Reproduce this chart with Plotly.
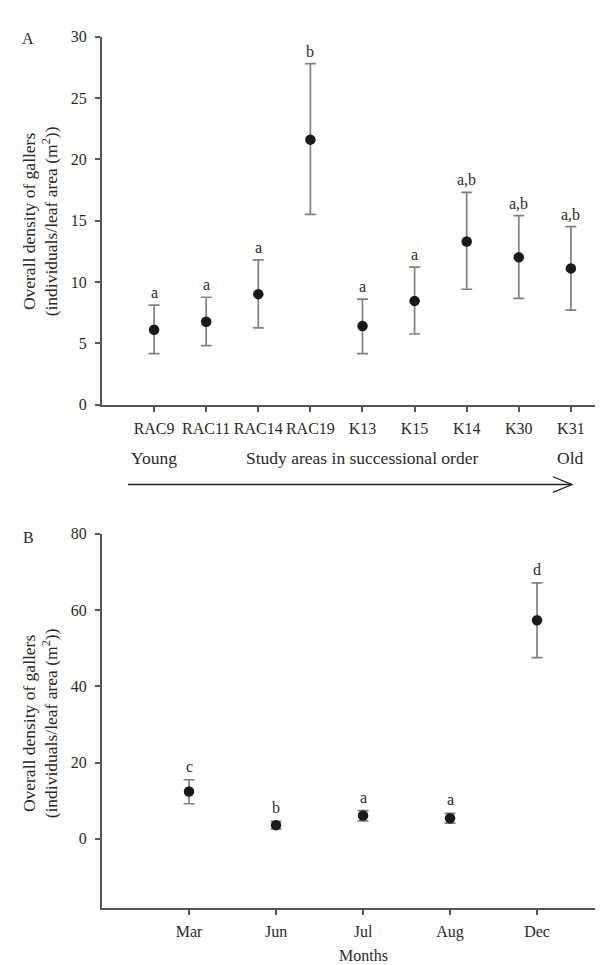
import plotly.graph_objects as go

# Panel A data
sites = ["RAC9", "RAC11", "RAC14", "RAC19", "K13", "K15", "K14", "K30", "K31"]
site_mean = [6.1, 6.75, 9.0, 21.6, 6.4, 8.45, 13.3, 12.0, 11.1]
site_upper = [8.1, 8.75, 11.8, 27.8, 8.6, 11.2, 17.3, 15.4, 14.5]
site_lower = [4.15, 4.8, 6.25, 15.5, 4.15, 5.75, 9.4, 8.65, 7.7]
site_letters = ["a", "a", "a", "b", "a", "a", "a,b", "a,b", "a,b"]

# Panel B data
months = ["Mar", "Jun", "Jul", "Aug", "Dec"]
month_mean = [12.4, 3.6, 6.1, 5.4, 57.3]
month_upper = [15.5, 4.6, 7.4, 6.7, 67.1]
month_lower = [9.2, 2.6, 4.7, 4.1, 47.5]
month_letters = ["c", "b", "a", "a", "d"]

W, H = 603, 965
FONT = "Liberation Serif"
TXT = "#2a2a2a"
AX = "#555555"
ERR = "#808080"
MK = "#1a1a1a"
FS = 16
FT = 17.5


def px(x):
    return x / W


def py(y):
    return 1 - y / H


fig = go.Figure()

fig.add_trace(go.Scatter(
    x=sites, y=site_mean, mode="markers",
    marker=dict(size=10.5, color=MK),
    error_y=dict(type="data", symmetric=False,
                 array=[u - m for u, m in zip(site_upper, site_mean)],
                 arrayminus=[m - l for m, l in zip(site_mean, site_lower)],
                 color=ERR, thickness=1.7, width=5.5),
    xaxis="x", yaxis="y", showlegend=False))

fig.add_trace(go.Scatter(
    x=months, y=month_mean, mode="markers",
    marker=dict(size=10.5, color=MK),
    error_y=dict(type="data", symmetric=False,
                 array=[u - m for u, m in zip(month_upper, month_mean)],
                 arrayminus=[m - l for m, l in zip(month_mean, month_lower)],
                 color=ERR, thickness=1.7, width=5.5),
    xaxis="x2", yaxis="y2", showlegend=False))

axis_common = dict(showline=True, linecolor=AX, linewidth=2, showgrid=False,
                   zeroline=False, ticks="outside", ticklen=5, tickwidth=2,
                   tickcolor=AX, tickangle=0,
                   tickfont=dict(family=FONT, size=FS, color=TXT))

fig.update_layout(
    width=W, height=H,
    margin=dict(l=0, r=0, t=0, b=0),
    paper_bgcolor="white", plot_bgcolor="white",
    font=dict(family=FONT, size=FS, color=TXT),
    xaxis=dict(domain=[px(94), 1], type="category", categoryorder="array",
               categoryarray=sites, range=[-1, 8.77], anchor="y",
               ticklabelstandoff=3, **axis_common),
    yaxis=dict(domain=[py(395.5), py(21)], range=[0, 30], anchor="x",
               tickvals=[0, 5, 10, 15, 20, 25, 30], ticklabelstandoff=5,
               **axis_common),
    xaxis2=dict(domain=[px(94), 1], type="category", categoryorder="array",
                categoryarray=months, range=[-1, 4.85], anchor="y2",
                ticklabelstandoff=3, **axis_common),
    yaxis2=dict(domain=[py(907.5), py(527)], range=[-18, 80], anchor="x2",
                tickvals=[0, 20, 40, 60, 80], ticklabelstandoff=5,
                **axis_common),
)

ann = []
for s, u, t in zip(sites, site_upper, site_letters):
    ann.append(dict(x=s, y=u, xref="x", yref="y", text=t, showarrow=False,
                    yanchor="bottom", yshift=2,
                    font=dict(family=FONT, size=FS, color=TXT)))
for m, u, t in zip(months, month_upper, month_letters):
    ann.append(dict(x=m, y=u, xref="x2", yref="y2", text=t, showarrow=False,
                    yanchor="bottom", yshift=3,
                    font=dict(family=FONT, size=FS, color=TXT)))

ytitle = "Overall density of gallers<br>(individuals/leaf area (m<sup>2</sup>))"
ann.append(dict(x=px(32), y=py(209), xref="paper", yref="paper", text=ytitle,
                showarrow=False, textangle=-90, xanchor="center", yanchor="middle",
                font=dict(family=FONT, size=FT, color=TXT)))
ann.append(dict(x=px(32), y=py(720), xref="paper", yref="paper", text=ytitle,
                showarrow=False, textangle=-90, xanchor="center", yanchor="middle",
                font=dict(family=FONT, size=FT, color=TXT)))

ann.append(dict(x=px(20), y=py(23), xref="paper", yref="paper", text="A",
                showarrow=False, xanchor="center", yanchor="middle",
                font=dict(family=FONT, size=FS, color=TXT)))
ann.append(dict(x=px(20), y=py(531), xref="paper", yref="paper", text="B",
                showarrow=False, xanchor="center", yanchor="middle",
                font=dict(family=FONT, size=FS, color=TXT)))

ann.append(dict(x="RAC9", y=py(450), xref="x", yref="paper", text="Young",
                showarrow=False, xanchor="center", yanchor="middle",
                font=dict(family=FONT, size=FT, color=TXT)))
ann.append(dict(x="K13", y=py(450), xref="x", yref="paper",
                text="Study areas in successional order",
                showarrow=False, xanchor="center", yanchor="middle",
                font=dict(family=FONT, size=FT, color=TXT)))
ann.append(dict(x="K31", y=py(450), xref="x", yref="paper", text="Old",
                showarrow=False, xanchor="center", yanchor="middle",
                font=dict(family=FONT, size=FT, color=TXT)))

ann.append(dict(x="Jul", y=py(956), xref="x2", yref="paper", text="Months",
                showarrow=False, xanchor="center", yanchor="middle",
                font=dict(family=FONT, size=FS, color=TXT)))

fig.update_layout(annotations=ann)

# Arrow below panel A (open V head)
shapes = [
    dict(type="line", xref="paper", yref="paper",
         x0=px(120), y0=py(477), x1=px(563), y1=py(477),
         line=dict(color="#222222", width=1.5)),
    dict(type="path", xref="paper", yref="paper",
         path=f"M {px(545)} {py(469)} L {px(564)} {py(477)} L {px(545)} {py(485)}",
         line=dict(color="#222222", width=1.3)),
]
fig.update_layout(shapes=shapes)

fig.write_html("out.html")
